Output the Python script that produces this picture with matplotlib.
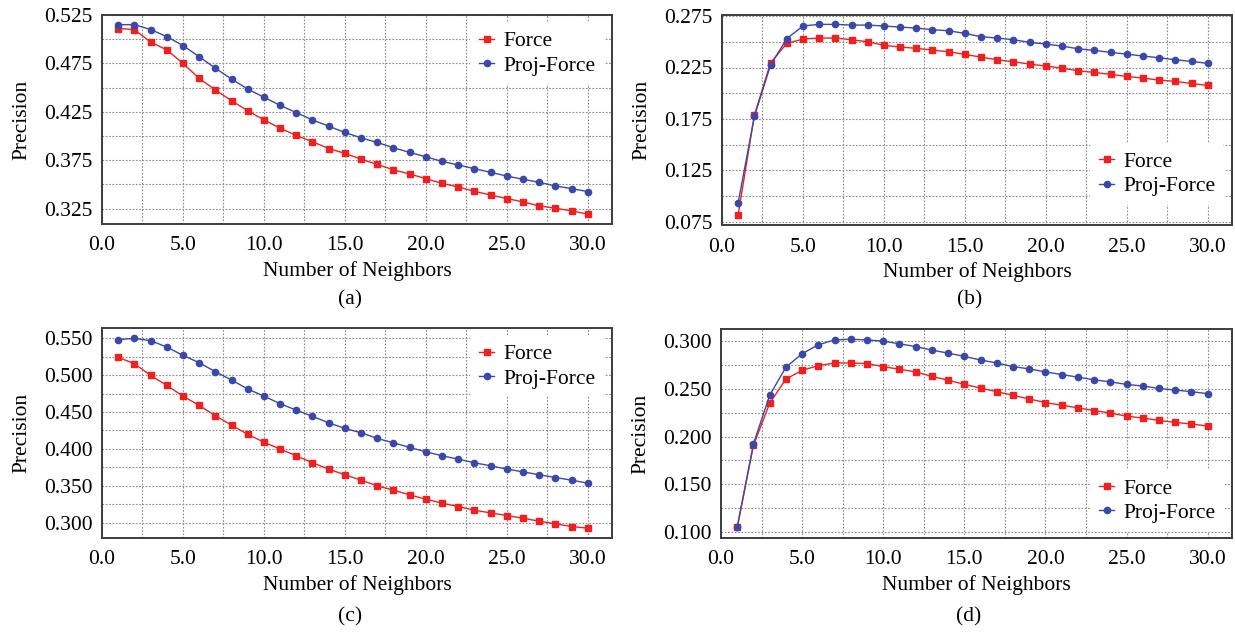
import numpy as np
import matplotlib
matplotlib.use('Agg')
import matplotlib.pyplot as plt
from matplotlib.ticker import MultipleLocator, FormatStrFormatter

# Number of neighbors (x axis, shared by all panels)
neighbors = list(range(1, 31))

# Panel (a)
force_a = [0.511, 0.510, 0.497, 0.489, 0.475, 0.4595, 0.4475, 0.4365, 0.426, 0.4166,
           0.408, 0.4005, 0.394, 0.387, 0.382, 0.376, 0.3706, 0.365, 0.3607, 0.3559,
           0.351, 0.3473, 0.3428, 0.339, 0.3353, 0.3319, 0.3277, 0.3253, 0.3226, 0.3192]
proj_a = [0.515, 0.515, 0.510, 0.5027, 0.4934, 0.482, 0.470, 0.4588, 0.4485, 0.440,
          0.4317, 0.4241, 0.4166, 0.4101, 0.4036, 0.398, 0.3933, 0.3878, 0.383, 0.3785,
          0.3737, 0.370, 0.3662, 0.3624, 0.3586, 0.3552, 0.3521, 0.3483, 0.3456, 0.3425]

# Panel (b)
force_b = [0.0821, 0.1787, 0.2296, 0.2484, 0.2526, 0.2536, 0.2536, 0.252, 0.250, 0.2465,
           0.2449, 0.2436, 0.2419, 0.2403, 0.2377, 0.2351, 0.2325, 0.2306, 0.2283, 0.2264,
           0.2244, 0.2218, 0.2202, 0.2183, 0.2163, 0.2147, 0.2128, 0.2115, 0.2095, 0.2076]
proj_b = [0.0938, 0.1775, 0.2274, 0.253, 0.2653, 0.2669, 0.2669, 0.2662, 0.2662, 0.2653,
          0.2643, 0.2633, 0.2617, 0.2607, 0.2581, 0.2549, 0.2536, 0.252, 0.2494, 0.2478,
          0.2458, 0.2432, 0.2416, 0.2397, 0.2380, 0.2361, 0.2345, 0.2325, 0.2309, 0.229]

# Panel (c)
force_c = [0.5242, 0.5156, 0.4997, 0.4861, 0.4716, 0.459, 0.4449, 0.4322, 0.4196, 0.4091,
           0.3996, 0.3906, 0.3811, 0.3725, 0.3648, 0.3575, 0.3498, 0.3439, 0.3376, 0.3317,
           0.3263, 0.3217, 0.3167, 0.3131, 0.3095, 0.3059, 0.3018, 0.2982, 0.2946, 0.2923]
proj_c = [0.5482, 0.550, 0.5468, 0.5382, 0.5269, 0.5169, 0.5047, 0.4934, 0.4812, 0.4716,
          0.4612, 0.4526, 0.444, 0.4354, 0.4277, 0.4218, 0.4141, 0.4082, 0.4019, 0.396,
          0.3906, 0.386, 0.3811, 0.377, 0.3725, 0.3688, 0.3648, 0.3611, 0.3575, 0.3534]

# Panel (d)
force_d = [0.1052, 0.1907, 0.2348, 0.260, 0.2693, 0.2741, 0.2769, 0.2769, 0.2762, 0.2731,
           0.2703, 0.2676, 0.2628, 0.259, 0.2545, 0.2507, 0.2469, 0.2431, 0.2393, 0.2355,
           0.2328, 0.230, 0.2272, 0.2245, 0.2214, 0.2193, 0.2169, 0.2148, 0.2131, 0.211]
proj_d = [0.1052, 0.1924, 0.2431, 0.2724, 0.2866, 0.2959, 0.301, 0.3017, 0.301, 0.2997,
          0.2969, 0.2941, 0.2903, 0.2872, 0.2838, 0.280, 0.2769, 0.2731, 0.2707, 0.2676,
          0.2648, 0.2621, 0.2593, 0.2572, 0.2545, 0.2528, 0.2503, 0.2486, 0.2469, 0.2448]

plt.rcParams.update({
    'font.family': 'Liberation Serif',
    'font.size': 15,
})

RED = '#f02020'
BLUE = '#3a48aa'
FS = 15.5
W, H = 1235, 633

# panel setup: data, axes box in pixels (left, top, right, bottom), ylim,
# first labelled y tick, legend loc/anchor, caption y (pixels)
panels = [
    (force_a, proj_a, (102, 15, 612, 224), (0.309, 0.525), 0.325, 'upper right', (1.0, 1.0), '(a)', 300),
    (force_b, proj_b, (722, 15, 1232, 225), (0.072, 0.276), 0.075, 'lower right', (1.0, 0.06), '(b)', 300),
    (force_c, proj_c, (102, 328, 612, 538), (0.279, 0.564), 0.300, 'upper right', (1.0, 1.0), '(c)', 617),
    (force_d, proj_d, (721, 329, 1232, 538), (0.094, 0.3124), 0.100, 'lower right', (1.0, -0.005), '(d)', 617),
]
step = 0.05

fig = plt.figure(figsize=(W / 100, H / 100), dpi=100)

for force, proj, box, ylim, y0, loc, anchor, cap, cap_y in panels:
    l, t, r, b = box
    ax = fig.add_axes([l / W, 1 - b / H, (r - l) / W, (b - t) / H])
    ax.plot(neighbors, force, '-', color=RED, marker='s', markersize=4.5, linewidth=1.0, label='Force', zorder=3)
    ax.plot(neighbors, proj, '-', color=BLUE, marker='o', markersize=4.5, linewidth=1.0, label='Proj-Force', zorder=3)

    ax.set_xlim(0, 31.5)
    ax.xaxis.set_major_locator(MultipleLocator(5))
    ax.xaxis.set_minor_locator(MultipleLocator(2.5))
    ax.set_yticks(np.arange(y0, ylim[1] + 1e-6, step))
    ax.set_yticks(np.arange(y0 - step / 2, ylim[1], step / 2), minor=True)
    ax.set_ylim(*ylim)
    ax.xaxis.set_major_formatter(FormatStrFormatter('%.1f'))
    ax.yaxis.set_major_formatter(FormatStrFormatter('%.3f'))
    ax.tick_params(which='both', length=0, labelsize=FS)
    ax.tick_params(axis='x', pad=9)
    ax.tick_params(axis='y', pad=7)

    ax.grid(True, which='both', linestyle=(0, (1.5, 1.5)), color='#8a8a8a', linewidth=0.8)
    ax.set_axisbelow(True)
    for s in ax.spines.values():
        s.set_color('#3c3c3c')
        s.set_linewidth(1.4)

    ax.set_xlabel('Number of Neighbors', fontsize=FS, labelpad=4)
    ax.set_ylabel('Precision', fontsize=FS, labelpad=9)

    leg = ax.legend(loc=loc, bbox_to_anchor=anchor, frameon=True, fontsize=FS, handlelength=0.7,
                    handletextpad=0.45, borderaxespad=0.35, labelspacing=0.2, markerscale=1.0)
    leg.get_frame().set_facecolor('white')
    leg.get_frame().set_edgecolor('none')
    leg.get_frame().set_alpha(1.0)

    fig.text((l + r) / 2 / W - 0.006, 1 - cap_y / H, cap, ha='center', va='center', fontsize=FS)

fig.savefig('out.png', dpi=100)
